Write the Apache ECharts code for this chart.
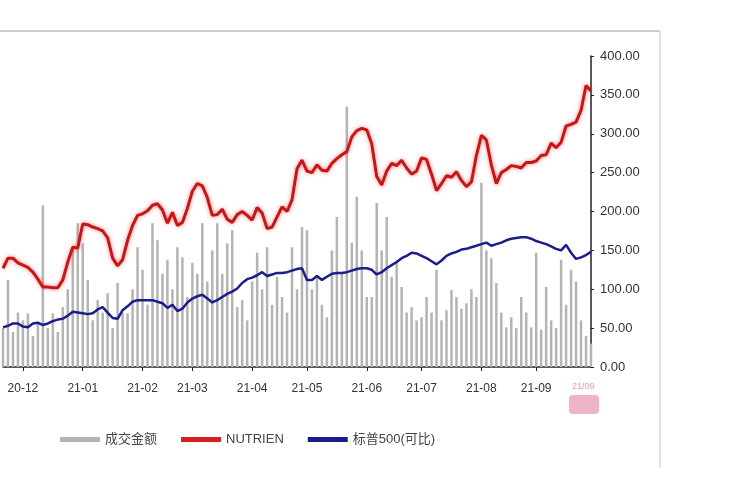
<!DOCTYPE html>
<html>
<head>
<meta charset="utf-8">
<script src="https://cdn.jsdelivr.net/npm/echarts@6/dist/echarts.min.js"></script>
<style>
html,body{margin:0;padding:0;background:#fff;}
#chart{width:750px;height:500px;}
</style>
</head>
<body>
<div id="chart"></div>
<script>
// Month tick labels and the category index where each month starts
var monthLabels = ['20-12','21-01','21-02','21-03','21-04','21-05','21-06','21-07','21-08','21-09'];
var monthIdx = [4,16,28,38,50,61,73,84,96,107];

var nutrien = [127,140,140,134,131,128,122,113,103,103,102,102,112,135,154,153,184,183,180,178,
  175,166,140,130,138,163,182,195,197,201,208,210,202,185,199,182,186,204,226,236,
  233,218,195,196,203,190,186,196,200,195,189,205,198,178,180,193,206,200,215,255,
  266,252,250,260,253,252,262,268,273,277,296,304,307,305,287,245,234,252,262,259,
  266,256,248,252,269,267,248,227,236,246,244,251,240,232,238,272,298,292,260,236,
  250,254,259,258,256,263,263,265,272,273,288,282,289,310,312,315,330,362,355];

var sp500 = [51,53,56,56,52,51,56,57,54,56,59,61,62,66,71,70,69,68,69,74,
  77,70,63,62,73,78,84,86,86,86,86,84,82,76,80,72,75,83,88,91,
  93,88,83,86,90,94,97,101,108,113,115,118,122,117,119,121,121,122,124,126,
  127,112,112,117,112,116,120,121,121,122,124,126,127,127,125,119,122,127,131,135,
  140,143,147,146,143,140,136,132,137,143,146,148,151,152,154,156,158,160,156,158,
  160,163,165,166,167,167,165,162,160,158,155,152,150,157,147,139,141,144,148];

var turnover = [50,112,45,70,60,69,40,57,208,50,69,45,77,100,154,185,159,112,60,86,
  70,95,50,108,70,69,100,154,125,80,185,163,120,138,100,154,141,90,134,120,
  185,110,150,185,120,159,176,77,86,60,110,147,100,154,80,116,90,70,154,100,
  180,176,100,116,80,64,150,193,120,335,160,219,150,90,90,211,150,193,116,134,
  103,70,77,60,64,90,70,125,60,73,99,90,75,82,100,90,237,150,140,108,
  70,51,64,50,90,70,51,147,48,103,60,50,138,80,125,110,60,40,30];

var yTicks = [0,50,100,150,200,250,300,350,400];

// Build category axis
var categories = [];
for (var i = 0; i < nutrien.length; i++) categories.push('');
monthIdx.forEach(function (k, j) { categories[k] = monthLabels[j]; });

var chart = echarts.init(document.getElementById('chart'), null, {renderer: 'canvas'});
var font = 'Liberation Sans, Arial, Noto Sans CJK SC, sans-serif';

chart.setOption({
  backgroundColor: '#ffffff',
  animation: false,
  grid: {left: 0, right: 159, top: 56, bottom: 133, containLabel: false},
  xAxis: {
    type: 'category',
    data: categories,
    boundaryGap: false,
    axisLine: {show: true, lineStyle: {color: '#222', width: 1.5}},
    axisTick: {show: true, length: 4, lineStyle: {color: '#222'},
      interval: function (idx) { return categories[idx] !== ''; }},
    axisLabel: {interval: 0, margin: 16, color: '#333', fontSize: 12, fontFamily: font},
    splitLine: {show: false}
  },
  yAxis: {
    type: 'value',
    position: 'right',
    min: yTicks[0], max: yTicks[yTicks.length - 1], interval: 50,
    axisLine: {show: true, lineStyle: {color: '#222', width: 1.5}},
    axisTick: {show: true, length: 3, lineStyle: {color: '#222'}},
    axisLabel: {margin: 9, color: '#333', fontSize: 13, fontFamily: font,
      formatter: function (v) { return v.toFixed(2); }},
    splitLine: {show: false}
  },
  legend: {
    left: 55, top: 428,
    itemWidth: 40, itemHeight: 5, itemGap: 24,
    textStyle: {color: '#444', fontSize: 13, fontFamily: font},
    data: [
      {name: '成交金额', icon: 'rect'},
      {name: 'NUTRIEN', icon: 'rect'},
      {name: '标普500(可比)', icon: 'rect'}
    ]
  },
  series: [
    {
      name: '成交金额', type: 'bar', data: turnover, barWidth: 2.5,
      itemStyle: {color: '#b4b4b4'}
    },
    {
      name: 'NUTRIEN', type: 'line', data: nutrien, symbol: 'none', smooth: false,
      itemStyle: {color: '#d42020'},
      lineStyle: {color: '#c41818', width: 3, shadowColor: 'rgba(255,40,40,0.6)', shadowBlur: 4}
    },
    {
      name: '标普500(可比)', type: 'line', data: sp500, symbol: 'none',
      itemStyle: {color: '#1c1c8a'},
      lineStyle: {color: '#1c1c8a', width: 2.5}
    }
  ],
  graphic: [
    {type: 'line', shape: {x1: 0, y1: 31, x2: 660, y2: 31}, style: {stroke: '#cfcfcf', lineWidth: 2}},
    {type: 'line', shape: {x1: 660, y1: 31, x2: 660, y2: 468}, style: {stroke: '#d8d8d8', lineWidth: 1.5}},
    {type: 'text', left: 572, top: 382, style: {text: '21/09', fill: '#e59ab0', fontSize: 9, fontFamily: font}},
    {type: 'rect', shape: {x: 569, y: 395, width: 30, height: 19, r: 4}, style: {fill: '#eeb3c4'}}
  ]
});
</script>
</body>
</html>
